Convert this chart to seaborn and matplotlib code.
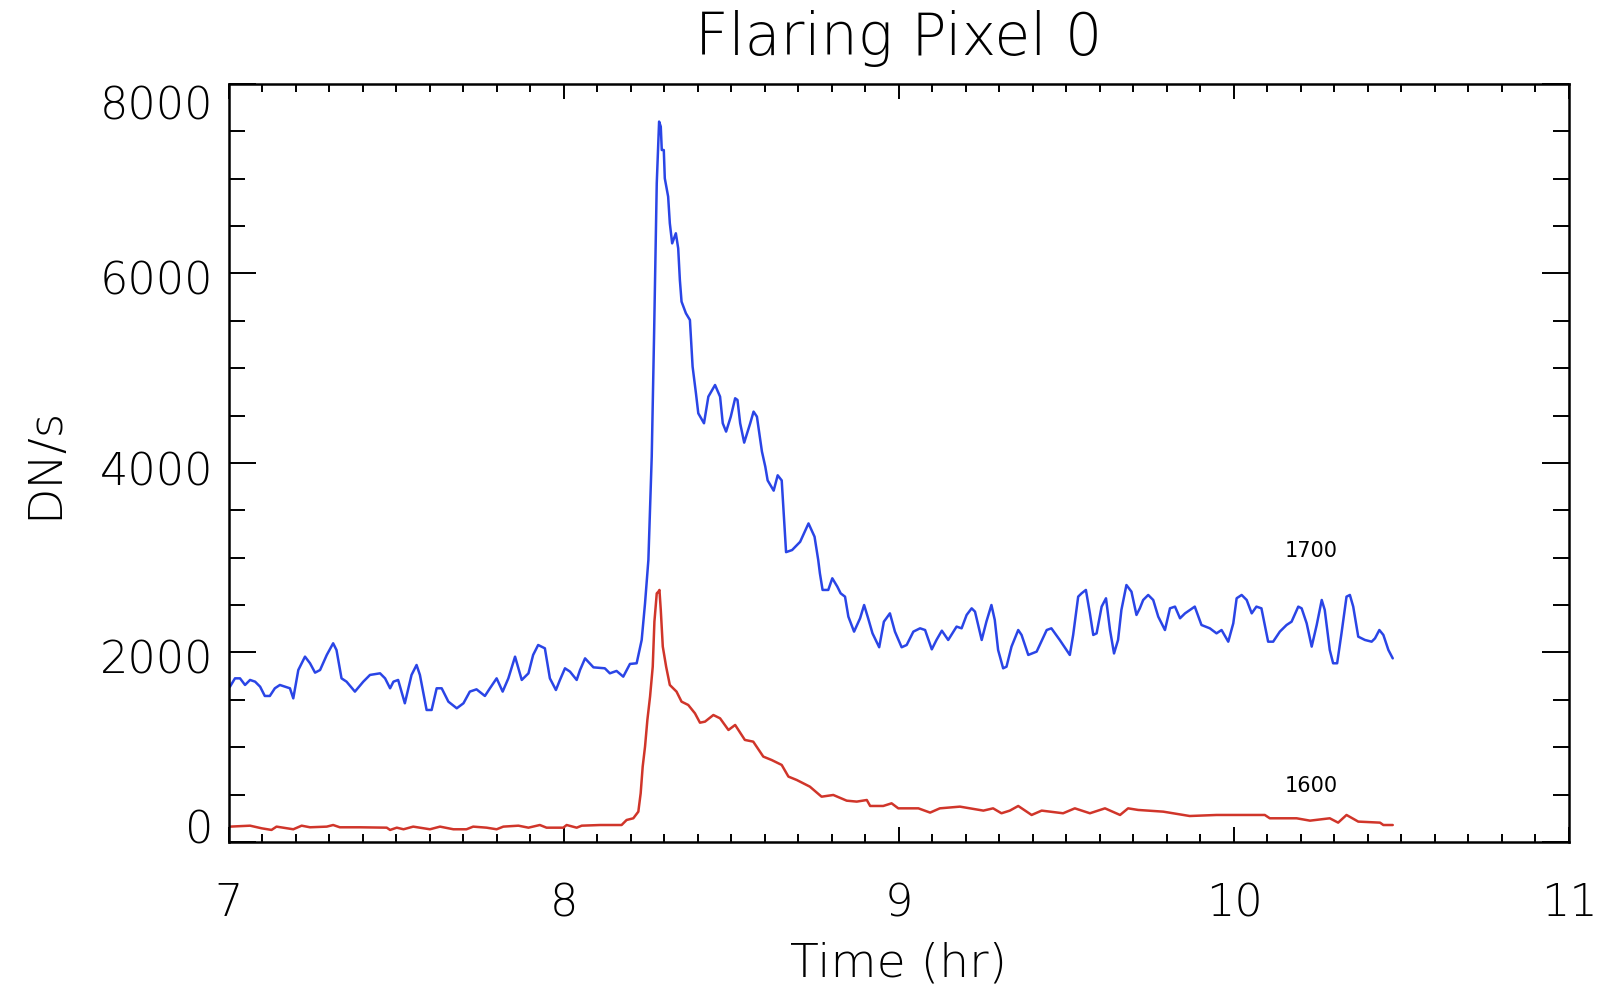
import numpy as np
import pandas as pd
import matplotlib
matplotlib.use("Agg")
import matplotlib.pyplot as plt
import matplotlib.transforms as mtransforms
from matplotlib.ticker import MultipleLocator
import seaborn as sns

# --- values ---
t_1700 = [7.003, 7.018, 7.033, 7.048, 7.063, 7.078, 7.093, 7.107, 7.122, 7.137,
          7.152, 7.167, 7.182, 7.192, 7.207, 7.227, 7.242, 7.257, 7.272, 7.292,
          7.311, 7.321, 7.336, 7.351, 7.376, 7.401, 7.421, 7.451, 7.466, 7.481,
          7.491, 7.505, 7.525, 7.545, 7.560, 7.570, 7.590, 7.605, 7.620, 7.635,
          7.655, 7.680, 7.700, 7.719, 7.739, 7.764, 7.779, 7.799, 7.817, 7.834,
          7.854, 7.874, 7.894, 7.908, 7.923, 7.943, 7.958, 7.976, 7.988, 8.003,
          8.018, 8.038, 8.048, 8.063, 8.088, 8.122, 8.137, 8.157, 8.177, 8.197,
          8.217, 8.232, 8.242, 8.252, 8.262, 8.269, 8.277, 8.284, 8.289, 8.292,
          8.298, 8.301, 8.311, 8.316, 8.323, 8.334, 8.341, 8.346, 8.351, 8.364,
          8.376, 8.384, 8.394, 8.401, 8.418, 8.431, 8.451, 8.466, 8.474, 8.484,
          8.498, 8.511, 8.518, 8.526, 8.538, 8.556, 8.566, 8.576, 8.581, 8.591,
          8.601, 8.608, 8.626, 8.638, 8.650, 8.663, 8.681, 8.705, 8.730, 8.748,
          8.759, 8.764, 8.772, 8.789, 8.801, 8.816, 8.826, 8.839, 8.849, 8.866,
          8.884, 8.896, 8.908, 8.921, 8.941, 8.955, 8.973, 8.988, 9.008, 9.023,
          9.043, 9.063, 9.078, 9.098, 9.112, 9.128, 9.147, 9.172, 9.187, 9.202,
          9.217, 9.227, 9.247, 9.261, 9.276, 9.286, 9.296, 9.311, 9.321, 9.336,
          9.356, 9.366, 9.386, 9.411, 9.441, 9.455, 9.480, 9.510, 9.520, 9.535,
          9.545, 9.558, 9.570, 9.580, 9.590, 9.605, 9.618, 9.630, 9.642, 9.654,
          9.664, 9.679, 9.694, 9.709, 9.719, 9.729, 9.744, 9.759, 9.774, 9.794,
          9.809, 9.824, 9.839, 9.854, 9.883, 9.903, 9.928, 9.948, 9.963, 9.983,
          9.998, 10.008, 10.023, 10.038, 10.053, 10.067, 10.082, 10.102, 10.117, 10.137,
          10.157, 10.172, 10.192, 10.202, 10.217, 10.232, 10.247, 10.262, 10.271, 10.286,
          10.296, 10.308, 10.321, 10.336, 10.346, 10.356, 10.371, 10.391, 10.411, 10.421,
          10.434, 10.446, 10.461, 10.474]
dn_1700 = [1639, 1727, 1727, 1657, 1710, 1692, 1639, 1541, 1541, 1622,
           1657, 1639, 1622, 1516, 1815, 1956, 1886, 1787, 1815, 1974,
           2097, 2026, 1727, 1692, 1587, 1692, 1763, 1780, 1727, 1622,
           1692, 1710, 1464, 1763, 1868, 1763, 1393, 1393, 1622, 1622,
           1481, 1411, 1464, 1587, 1611, 1541, 1622, 1727, 1587, 1727,
           1956, 1710, 1780, 1974, 2079, 2044, 1727, 1604, 1710, 1833,
           1798, 1710, 1815, 1938, 1843, 1833, 1780, 1805, 1745, 1879,
           1886, 2132, 2519, 2976, 4067, 5351, 6952, 7603, 7550, 7303,
           7303, 7004, 6811, 6530, 6318, 6424, 6266, 5931, 5703, 5580,
           5509, 5017, 4735, 4524, 4419, 4700, 4823, 4700, 4419, 4331,
           4489, 4683, 4665, 4419, 4215, 4419, 4542, 4489, 4366, 4120,
           3961, 3816, 3708, 3870, 3816, 3059, 3081, 3168, 3362, 3222,
           2976, 2835, 2660, 2660, 2783, 2695, 2624, 2589, 2378, 2220,
           2361, 2501, 2361, 2202, 2055, 2325, 2413, 2220, 2055, 2079,
           2220, 2255, 2237, 2033, 2132, 2230, 2132, 2273, 2255, 2396,
           2466, 2431, 2132, 2325, 2501, 2343, 2026, 1833, 1850, 2062,
           2237, 2185, 1974, 2009, 2237, 2255, 2132, 1974, 2185, 2589,
           2624, 2660, 2413, 2185, 2202, 2484, 2572, 2237, 1990, 2132,
           2449, 2712, 2642, 2396, 2466, 2554, 2607, 2554, 2378, 2237,
           2466, 2484, 2361, 2413, 2484, 2290, 2255, 2202, 2237, 2114,
           2308, 2572, 2607, 2554, 2413, 2484, 2466, 2114, 2114, 2220,
           2290, 2325, 2484, 2466, 2308, 2062, 2290, 2554, 2449, 2026,
           1886, 1886, 2202, 2589, 2607, 2484, 2167, 2132, 2114, 2149,
           2237, 2185, 2026, 1938]

t_1600 = [7.003, 7.063, 7.098, 7.127, 7.142, 7.192, 7.217, 7.242, 7.292, 7.311,
          7.331, 7.391, 7.471, 7.481, 7.501, 7.521, 7.550, 7.600, 7.630, 7.670,
          7.709, 7.729, 7.769, 7.799, 7.819, 7.864, 7.894, 7.928, 7.948, 7.998,
          8.008, 8.038, 8.053, 8.108, 8.172, 8.187, 8.207, 8.222, 8.229, 8.235,
          8.242, 8.249, 8.257, 8.265, 8.270, 8.277, 8.282, 8.285, 8.289, 8.295,
          8.305, 8.316, 8.336, 8.351, 8.371, 8.391, 8.406, 8.421, 8.446, 8.466,
          8.491, 8.511, 8.540, 8.565, 8.595, 8.620, 8.650, 8.670, 8.695, 8.734,
          8.769, 8.804, 8.844, 8.874, 8.904, 8.914, 8.953, 8.978, 8.998, 9.058,
          9.093, 9.122, 9.182, 9.212, 9.252, 9.281, 9.306, 9.331, 9.356, 9.396,
          9.426, 9.490, 9.525, 9.570, 9.615, 9.660, 9.684, 9.714, 9.789, 9.868,
          9.948, 10.092, 10.107, 10.187, 10.227, 10.286, 10.311, 10.336, 10.371, 10.436,
          10.446, 10.474]
dn_1600 = [162, 172, 144, 127, 162, 134, 172, 155, 162, 179,
           155, 155, 151, 127, 151, 134, 162, 134, 162, 134,
           134, 162, 151, 134, 162, 172, 151, 179, 151, 151,
           179, 151, 172, 179, 179, 232, 250, 320, 514, 795,
           1006, 1288, 1534, 1850, 2325, 2624, 2642, 2660, 2449, 2062,
           1850, 1657, 1587, 1481, 1446, 1358, 1259, 1270, 1340, 1305,
           1182, 1235, 1077, 1059, 901, 865, 813, 690, 654, 584,
           478, 496, 436, 426, 443, 380, 380, 408, 355, 355,
           310, 355, 373, 355, 331, 355, 303, 331, 380, 285,
           331, 303, 355, 303, 355, 285, 355, 338, 320, 274,
           285, 285, 250, 250, 225, 250, 204, 285, 215, 204,
           179, 179]

series_labels = ["1700", "1600"]
label_pos_t = [10.23, 10.23]
label_pos_dn = [3070, 590]
x_ticks = [7, 8, 9, 10, 11]
y_ticks = [0, 2000, 4000, 6000, 8000]

blue = "#2a45e6"
red = "#d0352a"

sns.set_style("ticks")
plt.rcParams["font.family"] = ["DejaVu Sans"]
plt.rcParams["font.weight"] = "light"
plt.rcParams["text.color"] = "black"
plt.rcParams["axes.labelcolor"] = "black"
plt.rcParams["xtick.color"] = "black"
plt.rcParams["ytick.color"] = "black"
plt.rcParams["axes.edgecolor"] = "black"

fig = plt.figure(figsize=(16, 9.88), dpi=100)
ax = fig.add_axes([0.1431, 0.1478, 0.8375, 0.7672])

df17 = pd.DataFrame({"t": t_1700, "dn": dn_1700})
df16 = pd.DataFrame({"t": t_1600, "dn": dn_1600})
sns.lineplot(data=df17, x="t", y="dn", color=blue, lw=1.8, ax=ax,
             estimator=None, sort=False)
sns.lineplot(data=df16, x="t", y="dn", color=red, lw=1.8, ax=ax,
             estimator=None, sort=False)

for lab, tx, ty in zip(series_labels, label_pos_t, label_pos_dn):
    ax.text(tx, ty, lab, fontsize=15, ha="center", va="center",
            color="black", fontweight="normal")

ax.set_xlim(7, 11)
ax.set_ylim(0, 8000)
ax.set_xticks(x_ticks)
ax.set_xticklabels([str(v) for v in x_ticks])
ax.set_yticks(y_ticks)
ax.set_yticklabels([str(v) for v in y_ticks])
ax.xaxis.set_minor_locator(MultipleLocator(0.1))
ax.yaxis.set_minor_locator(MultipleLocator(500))

for sp in ax.spines.values():
    sp.set_linewidth(1.8)
    sp.set_visible(True)

ax.tick_params(which="both", direction="in", top=True, right=True, width=1.4,
               color="black", labelcolor="black")
ax.tick_params(axis="x", which="major", length=10.8, pad=29, labelsize=32)
ax.tick_params(axis="x", which="minor", length=5.8)
ax.tick_params(axis="y", which="major", length=19.4, pad=11.5, labelsize=32)
ax.tick_params(axis="y", which="minor", length=11.5)

ax.set_title("Flaring Pixel 0", fontsize=42, pad=21, fontweight="light",
             color="black")
ax.set_xlabel("Time (hr)", fontsize=34, labelpad=12, fontweight="light")
ax.set_ylabel("DN/s", fontsize=34, labelpad=24, fontweight="light")

# IDL-like nudging of the end labels inward
shifts = [11, -3, -4, -3, -13]
for lab, dy in zip(ax.get_yticklabels(), shifts):
    lab.set_transform(lab.get_transform() +
                      mtransforms.ScaledTranslation(0, dy / 72, fig.dpi_scale_trans))

fig.savefig("out.png", dpi=100, facecolor="white")
